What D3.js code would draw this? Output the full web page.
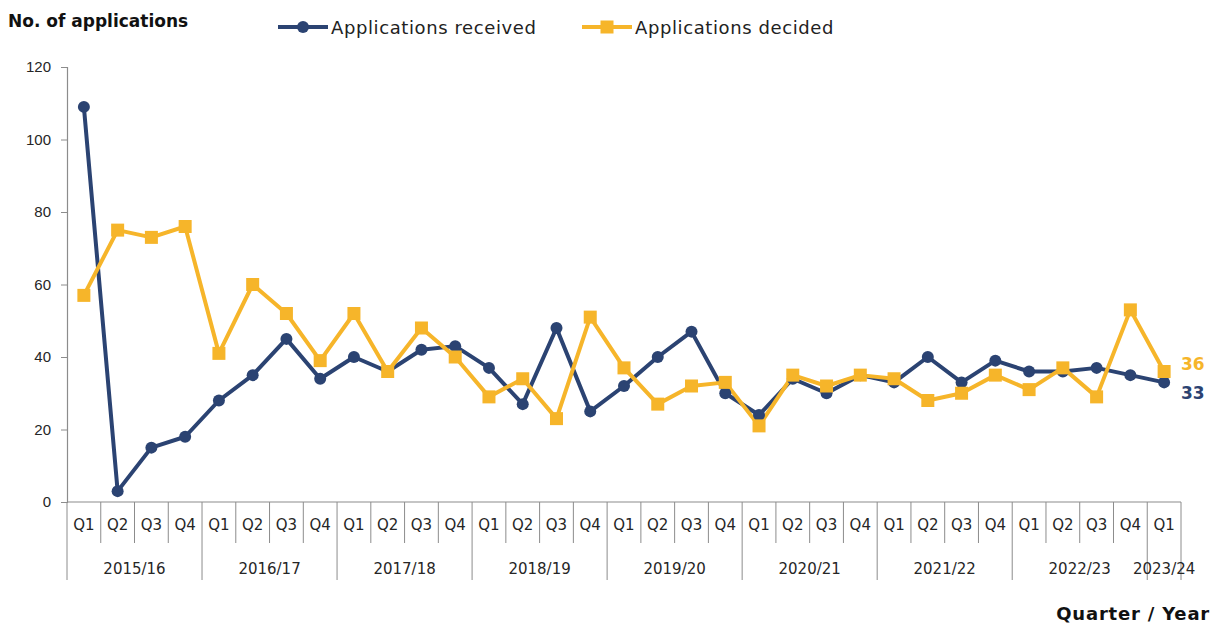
<!DOCTYPE html>
<html lang="en">
<head>
  <meta charset="UTF-8">
  <title>Applications received and decided</title>
  <style type="text/css">
    body{
      margin: 0;
      background: #fff;
      font-family: "DejaVu Sans", sans-serif;
    }
    .axis text{
      font-size: 15px;
      fill: #262626;
    }
    .cat text{
      font-size: 15px;
      fill: #262626;
    }
    .title{
      font-size: 17px;
      font-weight: bold;
      fill: #111;
    }
    .legend text{
      font-size: 18px;
      letter-spacing: 0.6px;
      fill: #222;
    }
  </style>
  <script type="text/javascript" src="https://d3js.org/d3.v7.min.js"></script>
</head>
<body>
<script type="text/javascript">
  var years = ['2015/16', '2016/17', '2017/18', '2018/19', '2019/20', '2020/21', '2021/22', '2022/23', '2023/24'];
  var quarters = ['Q1', 'Q2', 'Q3', 'Q4'];
  var quartersPerYear = [4, 4, 4, 4, 4, 4, 4, 4, 1];

  var received = [109, 3, 15, 18, 28, 35, 45, 34, 40, 36, 42, 43, 37, 27, 48, 25,
                  32, 40, 47, 30, 24, 34, 30, 35, 33, 40, 33, 39, 36, 36, 37, 35, 33];
  var decided  = [57, 75, 73, 76, 41, 60, 52, 39, 52, 36, 48, 40, 29, 34, 23, 51,
                  37, 27, 32, 33, 21, 35, 32, 35, 34, 28, 30, 35, 31, 37, 29, 53, 36];
  var yTicks = [0, 20, 40, 60, 80, 100, 120];

  var navy = '#2b4372';
  var gold = '#f6b52a';

  var W = 1213, H = 626;
  var plotLeft = 67, plotRight = 1181, plotTop = 67, plotBottom = 502;

  // build the quarter list from years
  var cats = [];
  years.forEach(function(y, yi){
    for (var q = 0; q < quartersPerYear[yi]; q++) {
      cats.push({year: y, q: quarters[q], key: y + ' ' + quarters[q]});
    }
  });

  var svg = d3.select('body').append('svg')
    .attr('width', W)
    .attr('height', H);

  var x = d3.scaleBand()
    .domain(cats.map(function(d){ return d.key; }))
    .range([plotLeft, plotRight]);

  var y = d3.scaleLinear()
    .domain([0, 120])
    .range([plotBottom, plotTop]);

  // y axis
  var yAxis = svg.append('g')
    .attr('class', 'axis')
    .attr('transform', 'translate(' + plotLeft + ',0)')
    .call(d3.axisLeft(y).tickValues(yTicks).tickSize(6).tickPadding(10));
  yAxis.select('.domain').attr('stroke', '#8c8c8c').attr('stroke-width', 1.2);
  yAxis.selectAll('.tick line').attr('stroke', '#8c8c8c');

  // x axis line and category boxes
  var cat = svg.append('g').attr('class', 'cat');
  cat.append('line')
    .attr('x1', plotLeft).attr('x2', plotRight)
    .attr('y1', plotBottom).attr('y2', plotBottom)
    .attr('stroke', '#8c8c8c').attr('stroke-width', 1.2);

  cat.selectAll('.qsep')
    .data(cats)
    .enter().append('line')
    .attr('x1', function(d){ return x(d.key); })
    .attr('x2', function(d){ return x(d.key); })
    .attr('y1', plotBottom)
    .attr('y2', function(d){ return d.q === 'Q1' ? 580 : 543; })
    .attr('stroke', '#8c8c8c').attr('stroke-width', 1);

  cat.append('line')
    .attr('x1', plotRight).attr('x2', plotRight)
    .attr('y1', plotBottom).attr('y2', 580)
    .attr('stroke', '#8c8c8c').attr('stroke-width', 1);

  cat.selectAll('.qlab')
    .data(cats)
    .enter().append('text')
    .attr('x', function(d){ return x(d.key) + x.bandwidth() / 2; })
    .attr('y', 530)
    .attr('text-anchor', 'middle')
    .text(function(d){ return d.q; });

  var idx = 0;
  years.forEach(function(yr, yi){
    var first = cats[idx].key;
    var last = cats[idx + quartersPerYear[yi] - 1].key;
    idx += quartersPerYear[yi];
    cat.append('text')
      .attr('x', (x(first) + x(last) + x.bandwidth()) / 2)
      .attr('y', 574)
      .attr('text-anchor', 'middle')
      .text(yr);
  });

  // lines
  function cx(i){ return x(cats[i].key) + x.bandwidth() / 2; }

  var line = d3.line()
    .x(function(d, i){ return cx(i); })
    .y(function(d){ return y(d); });

  svg.append('path')
    .datum(received)
    .attr('fill', 'none')
    .attr('stroke', navy)
    .attr('stroke-width', 4)
    .attr('stroke-linejoin', 'round')
    .attr('d', line);

  svg.append('path')
    .datum(decided)
    .attr('fill', 'none')
    .attr('stroke', gold)
    .attr('stroke-width', 4)
    .attr('stroke-linejoin', 'round')
    .attr('d', line);

  svg.selectAll('.dot')
    .data(received)
    .enter().append('circle')
    .attr('cx', function(d, i){ return cx(i); })
    .attr('cy', function(d){ return y(d); })
    .attr('r', 6)
    .attr('fill', navy);

  svg.selectAll('.sq')
    .data(decided)
    .enter().append('rect')
    .attr('x', function(d, i){ return cx(i) - 6.5; })
    .attr('y', function(d){ return y(d) - 6.5; })
    .attr('width', 13)
    .attr('height', 13)
    .attr('fill', gold);

  // end labels
  var n = cats.length - 1;
  svg.append('text')
    .attr('x', 1181).attr('y', y(decided[n]) - 2)
    .attr('font-size', 17).attr('font-weight', 'bold')
    .attr('fill', gold)
    .text(decided[n]);
  svg.append('text')
    .attr('x', 1181).attr('y', y(received[n]) + 17)
    .attr('font-size', 17).attr('font-weight', 'bold')
    .attr('fill', navy)
    .text(received[n]);

  // titles
  svg.append('text')
    .attr('class', 'title')
    .attr('x', 8).attr('y', 27)
    .text('No. of applications');

  svg.append('text')
    .attr('class', 'title')
    .attr('x', 1210).attr('y', 620)
    .attr('text-anchor', 'end')
    .style('font-size', '18px')
    .style('letter-spacing', '0.8px')
    .text('Quarter / Year');

  // legend
  var legend = svg.append('g').attr('class', 'legend');
  var items = [
    {label: 'Applications received', color: navy, shape: 'circle', x: 278},
    {label: 'Applications decided', color: gold, shape: 'square', x: 582}
  ];
  items.forEach(function(it){
    legend.append('line')
      .attr('x1', it.x).attr('x2', it.x + 50)
      .attr('y1', 27).attr('y2', 27)
      .attr('stroke', it.color).attr('stroke-width', 4);
    if (it.shape === 'circle') {
      legend.append('circle')
        .attr('cx', it.x + 25).attr('cy', 27).attr('r', 6)
        .attr('fill', it.color);
    } else {
      legend.append('rect')
        .attr('x', it.x + 18.5).attr('y', 20.5)
        .attr('width', 13).attr('height', 13)
        .attr('fill', it.color);
    }
    legend.append('text')
      .attr('x', it.x + 53).attr('y', 34)
      .text(it.label);
  });
</script>
</body>
</html>
